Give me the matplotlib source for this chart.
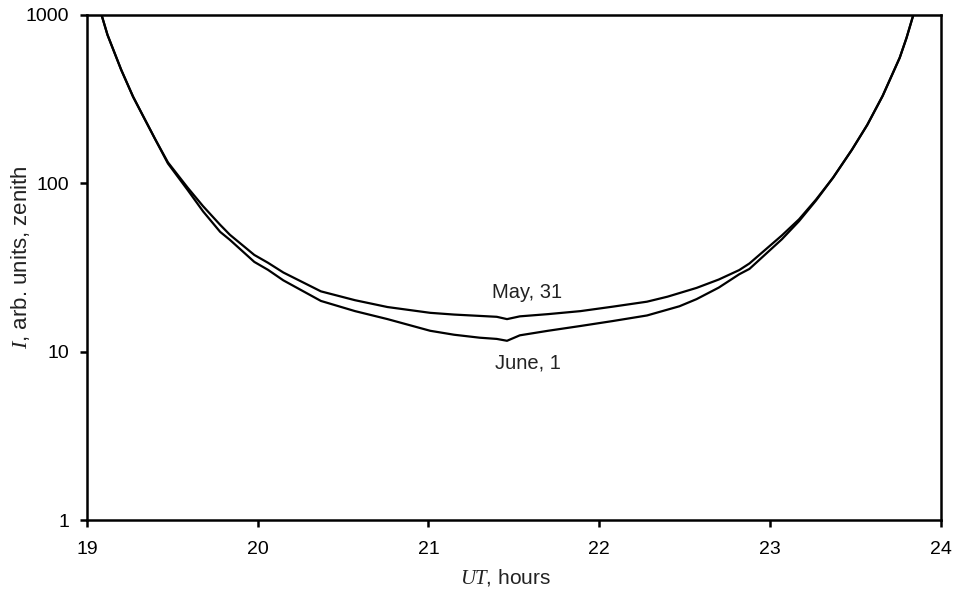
import matplotlib
matplotlib.use("Agg")
import matplotlib.pyplot as plt
from matplotlib.ticker import FixedLocator, FixedFormatter, NullLocator

# Zenith intensity during the twilight passes (UT hours, arb. units)
may31_ut = [19.085, 19.12, 19.20, 19.27, 19.34, 19.40, 19.474, 19.59, 19.68,
            19.78, 19.837, 19.98, 20.06, 20.15, 20.37, 20.57, 20.76, 21.01,
            21.15, 21.30, 21.40, 21.46, 21.535, 21.70, 21.89, 22.08, 22.28,
            22.40, 22.57, 22.70, 22.82, 22.88, 23.07, 23.17, 23.27, 23.37,
            23.48, 23.57, 23.66, 23.76, 23.80, 23.84]
may31_i = [1000, 760, 472, 326, 238, 182, 133, 94, 73,
           56.6, 49.4, 37.5, 33.7, 29.5, 22.8, 20.2, 18.4, 17.0,
           16.6, 16.3, 16.1, 15.6, 16.2, 16.7, 17.4, 18.5, 19.8,
           21.2, 23.9, 26.8, 30.5, 33.4, 49.0, 61.0, 80, 108,
           158, 222, 330, 556, 730, 1000]

june1_ut = [19.085, 19.12, 19.20, 19.27, 19.34, 19.40, 19.474, 19.59, 19.68,
            19.78, 19.837, 19.98, 20.06, 20.15, 20.37, 20.57, 20.76, 21.01,
            21.15, 21.30, 21.40, 21.46, 21.535, 21.70, 21.89, 22.08, 22.28,
            22.47, 22.57, 22.70, 22.82, 22.88, 23.07, 23.17, 23.27, 23.37,
            23.48, 23.57, 23.66, 23.76, 23.80, 23.84]
june1_i = [1000, 760, 472, 326, 238, 182, 131, 91, 68,
           51.4, 46.1, 34.1, 30.6, 26.5, 20.0, 17.4, 15.6, 13.3,
           12.6, 12.1, 11.9, 11.6, 12.5, 13.3, 14.2, 15.2, 16.4,
           18.6, 20.5, 24.0, 28.8, 31.0, 46.5, 59.5, 79, 108,
           158, 222, 330, 556, 730, 1000]

x_ticks = [19, 20, 21, 22, 23, 24]
y_ticks = [1, 10, 100, 1000]
y_labels = ["1", "10", "100", "1000"]

plt.rcParams["font.family"] = ["Liberation Sans", "DejaVu Sans"]
plt.rcParams["mathtext.fontset"] = "custom"
plt.rcParams["mathtext.it"] = "Liberation Serif:italic"
plt.rcParams["mathtext.rm"] = "Liberation Serif"

fig = plt.figure(figsize=(9.56, 5.91), dpi=100)
ax = fig.add_axes([0.091, 0.120, 0.893, 0.855])

ax.plot(may31_ut, may31_i, color="black", linewidth=1.6)
ax.plot(june1_ut, june1_i, color="black", linewidth=1.6)

ax.set_yscale("log")
ax.set_xlim(19, 24)
ax.set_ylim(1, 1000)

ax.xaxis.set_major_locator(FixedLocator(x_ticks))
ax.yaxis.set_major_locator(FixedLocator(y_ticks))
ax.yaxis.set_major_formatter(FixedFormatter(y_labels))
ax.yaxis.set_minor_locator(NullLocator())

for s in ax.spines.values():
    s.set_linewidth(1.8)

ax.tick_params(axis="x", direction="out", length=5, width=1.8, pad=10, labelsize=14)
ax.tick_params(axis="y", direction="out", length=5, width=1.8, pad=8, labelsize=14)

ax.set_xlabel(r"$UT$, hours", fontsize=15, color="#222222")
ax.set_ylabel(r"$I$, arb. units, zenith", fontsize=16, color="#222222")
ax.xaxis.set_label_coords(0.49, -0.093)
ax.yaxis.set_label_coords(-0.064, 0.52)

ax.text(21.58, 22.3, "May, 31", ha="center", va="center", fontsize=14.5, color="#222222")
ax.text(21.58, 8.57, "June, 1", ha="center", va="center", fontsize=14.5, color="#222222")

fig.savefig("out.png", dpi=100)
